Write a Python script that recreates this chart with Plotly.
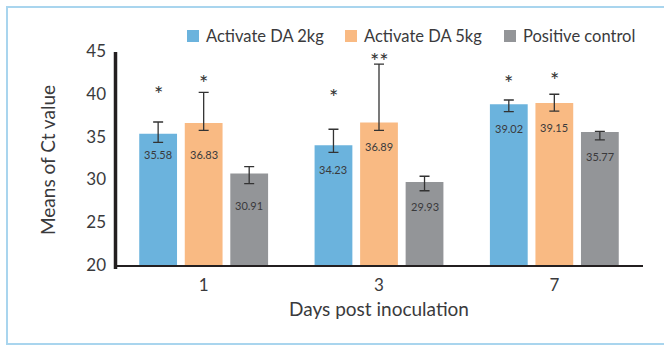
import plotly.graph_objects as go

# ---------------- data ----------------
days = ["1", "3", "7"]
series_names = ["Activate DA 2kg", "Activate DA 5kg", "Positive control"]
series_colors = ["#6BB3DD", "#F9BA83", "#939598"]
values_2kg = [35.58, 34.23, 39.02]
values_5kg = [36.83, 36.89, 39.15]
values_ctrl = [30.91, 29.93, 35.77]
err_plus_2kg = [1.36, 1.86, 0.49]
err_minus_2kg = [1.01, 0.83, 0.88]
err_plus_5kg = [3.58, 6.82, 1.03]
err_minus_5kg = [0.86, 0.92, 0.93]
err_plus_ctrl = [0.81, 0.67, 0.08]
err_minus_ctrl = [1.18, 1.02, 0.93]
sig_2kg = ["*", "*", "*"]
sig_5kg = ["*", "**", "*"]
sig_ctrl = ["", "", ""]
sig_y_2kg = [41.0, 40.6, 42.2]
sig_y_5kg = [42.3, 44.8, 42.6]
sig_y_ctrl = [0, 0, 0]
y_ticks = [20, 25, 30, 35, 40, 45]
x_title = "Days post inoculation"
y_title = "Means of Ct value"

values = [values_2kg, values_5kg, values_ctrl]
err_plus = [err_plus_2kg, err_plus_5kg, err_plus_ctrl]
err_minus = [err_minus_2kg, err_minus_5kg, err_minus_ctrl]
sigs = [sig_2kg, sig_5kg, sig_ctrl]
sig_ys = [sig_y_2kg, sig_y_5kg, sig_y_ctrl]

# ---------------- layout geometry (pixels) ----------------
FIG_W, FIG_H = 664, 345
L, R, T, B = 116, 642, 53, 267
PW, PH = R - L, B - T
BARGAP = 0.221
BARGROUPGAP = 0.17
TEXT = "#3a3a3c"
FONT = "Lato"

def pxx(px):
    return (px - L) / PW

def pxy(py):
    return (B - py) / PH

xpos = list(range(len(days)))
slot = (1 - BARGAP) / len(series_names)

fig = go.Figure()
for k, name in enumerate(series_names):
    fig.add_trace(go.Bar(
        x=xpos, y=values[k], name=name,
        marker=dict(color=series_colors[k], line=dict(width=0)),
        error_y=dict(type="data", symmetric=False, array=err_plus[k], arrayminus=err_minus[k],
                     color="#333333", thickness=1.3, width=5),
        showlegend=False,
    ))

annotations = []
label_shift = [[-21, -24, -24], [-32, -24, -24], [-32, -24, -24]]
for k in range(len(series_names)):
    off = (k - (len(series_names) - 1) / 2) * slot
    for i in range(len(days)):
        xc = xpos[i] + off
        annotations.append(dict(
            x=xc, y=values[k][i], xref="x", yref="y", text=f"{values[k][i]:.2f}",
            showarrow=False, yanchor="middle", yshift=label_shift[k][i],
            font=dict(family=FONT, size=11, color=TEXT)))
        if sigs[k][i]:
            annotations.append(dict(
                x=xc, y=sig_ys[k][i], xref="x", yref="y", text=sigs[k][i],
                showarrow=False, yanchor="middle", yshift=-6,
                font=dict(family=FONT, size=22, color="#333333")))

# manual legend
legend_sq_x = [187, 345, 504]
shapes = []
for k, name in enumerate(series_names):
    x0 = legend_sq_x[k]
    shapes.append(dict(type="rect", xref="paper", yref="paper",
                       x0=pxx(x0), x1=pxx(x0 + 12), y0=pxy(42), y1=pxy(30),
                       fillcolor=series_colors[k], line=dict(width=0)))
    annotations.append(dict(x=pxx(x0 + 17), y=pxy(36), xref="paper", yref="paper",
                            text=name, showarrow=False, xanchor="left", yanchor="middle",
                            font=dict(family=FONT, size=16.5, color=TEXT)))

# axis lines
shapes.append(dict(type="line", xref="paper", yref="y", x0=pxx(114), x1=pxx(643),
                   y0=20, y1=20, line=dict(color="#231F20", width=4)))
shapes.append(dict(type="line", xref="paper", yref="paper", x0=pxx(115.5), x1=pxx(115.5),
                   y0=pxy(269), y1=pxy(52), line=dict(color="#231F20", width=3.5)))
# outer frame
shapes.append(dict(type="rect", xref="paper", yref="paper",
                   x0=pxx(7), x1=pxx(672), y0=pxy(344), y1=pxy(7),
                   line=dict(color="#A9D5EE", width=2), fillcolor="rgba(0,0,0,0)"))

fig.update_layout(
    width=FIG_W, height=FIG_H,
    margin=dict(l=L, r=FIG_W - R, t=T, b=FIG_H - B),
    paper_bgcolor="white", plot_bgcolor="white",
    barmode="group", bargap=BARGAP, bargroupgap=BARGROUPGAP,
    font=dict(family=FONT, color=TEXT),
    xaxis=dict(range=[-0.5, len(days) - 0.5], tickvals=xpos, ticktext=days,
               showgrid=False, zeroline=False, showline=False, ticks="",
               ticklabelstandoff=6, tickfont=dict(size=17, color=TEXT),
               title=dict(text=x_title, font=dict(size=19, color=TEXT), standoff=8)),
    yaxis=dict(range=[20, 45], tickvals=y_ticks, showgrid=False, zeroline=False,
               showline=False, ticks="", ticklabelstandoff=9, ticklabelshift=-2,
               tickfont=dict(size=17, color=TEXT),
               title=dict(text=y_title, font=dict(size=19, color=TEXT), standoff=25)),
    annotations=annotations, shapes=shapes, showlegend=False,
)

fig.write_html("out.html", config={"displayModeBar": False},
               post_script="document.body.style.margin='0';document.body.style.overflow='hidden';")
